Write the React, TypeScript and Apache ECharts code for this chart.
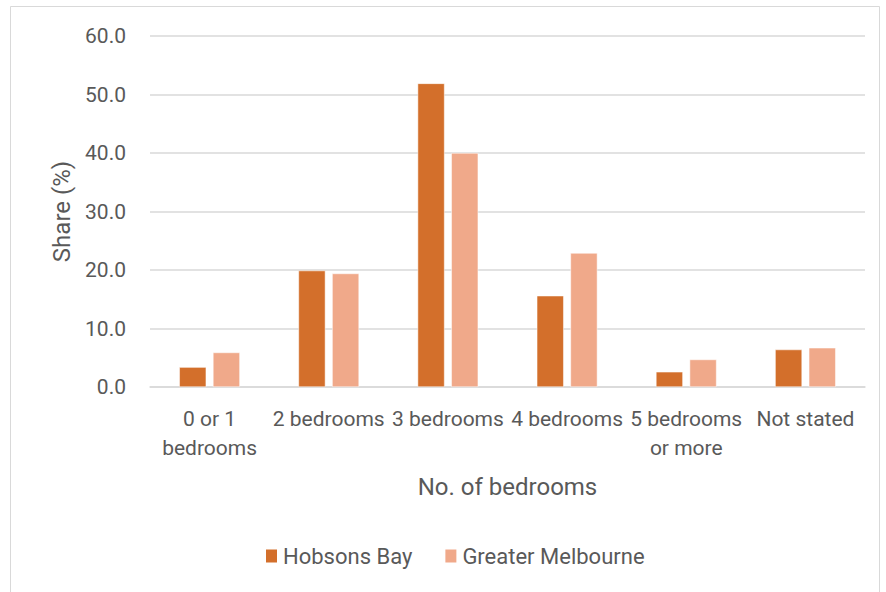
import React, { useEffect, useRef } from "react";
import * as echarts from "echarts";

const categories = ["0 or 1\nbedrooms", "2 bedrooms", "3 bedrooms", "4 bedrooms", "5 bedrooms\nor more", "Not stated"];
const hobsonsBay = [3.4, 19.9, 51.9, 15.6, 2.6, 6.4];
const greaterMelbourne = [5.9, 19.4, 40.0, 22.9, 4.7, 6.7];
const yTicks = { min: 0, max: 60, interval: 10 };

const FONT = "Roboto, 'Liberation Sans', sans-serif";
const TEXT = "#595959";

export default function App() {
  const ref = useRef<HTMLDivElement>(null);
  useEffect(() => {
    if (!ref.current) return;
    const chart = echarts.init(ref.current, undefined, { renderer: "svg" });
    chart.setOption({
      animation: false,
      backgroundColor: "#ffffff",
      textStyle: { fontFamily: FONT, color: TEXT },
      graphic: [
        {
          type: "rect",
          shape: { x: 10.5, y: 6.5, width: 869, height: 600 },
          style: { fill: "none", stroke: "#d9d9d9", lineWidth: 1 },
          silent: true,
        },
      ],
      grid: { left: 150, right: 21, top: 36, bottom: 205, containLabel: false },
      legend: {
        bottom: 20,
        left: 259,
        itemWidth: 13,
        itemHeight: 15,
        itemGap: 31,
        icon: "rect",
        textStyle: { fontFamily: FONT, fontSize: 22, color: TEXT },
        data: ["Hobsons Bay", "Greater Melbourne"],
      },
      xAxis: {
        type: "category",
        data: categories,
        name: "No. of bedrooms",
        nameLocation: "middle",
        nameGap: 88,
        nameTextStyle: { fontFamily: FONT, fontSize: 24, color: TEXT },
        axisLine: { lineStyle: { color: "#d9d9d9", width: 1.5 } },
        axisTick: { show: false },
        axisLabel: {
          fontFamily: FONT,
          fontSize: 21,
          color: TEXT,
          interval: 0,
          lineHeight: 29,
          margin: 17,
        },
      },
      yAxis: {
        type: "value",
        min: yTicks.min,
        max: yTicks.max,
        interval: yTicks.interval,
        name: "Share (%)",
        nameLocation: "middle",
        nameGap: 75,
        nameTextStyle: { fontFamily: FONT, fontSize: 24, color: TEXT },
        axisLine: { show: false },
        axisTick: { show: false },
        splitLine: { lineStyle: { color: "#d9d9d9", width: 1.5 } },
        axisLabel: {
          fontFamily: FONT,
          fontSize: 21,
          color: TEXT,
          margin: 24,
          formatter: (v: number) => v.toFixed(1),
        },
      },
      series: [
        {
          name: "Hobsons Bay",
          type: "bar",
          data: hobsonsBay,
          barWidth: "22.6%",
          barGap: "25%",
          itemStyle: { color: "#d36f2b", borderColor: "#ffffff", borderWidth: 0.5 },
        },
        {
          name: "Greater Melbourne",
          type: "bar",
          data: greaterMelbourne,
          barWidth: "22.6%",
          itemStyle: { color: "#f0a98a", borderColor: "#ffffff", borderWidth: 0.5 },
        },
      ],
    });
    return () => chart.dispose();
  }, []);
  return (
    <div
      ref={ref}
      style={{ position: "fixed", left: 0, top: 0, width: 886, height: 592 }}
    />
  );
}
